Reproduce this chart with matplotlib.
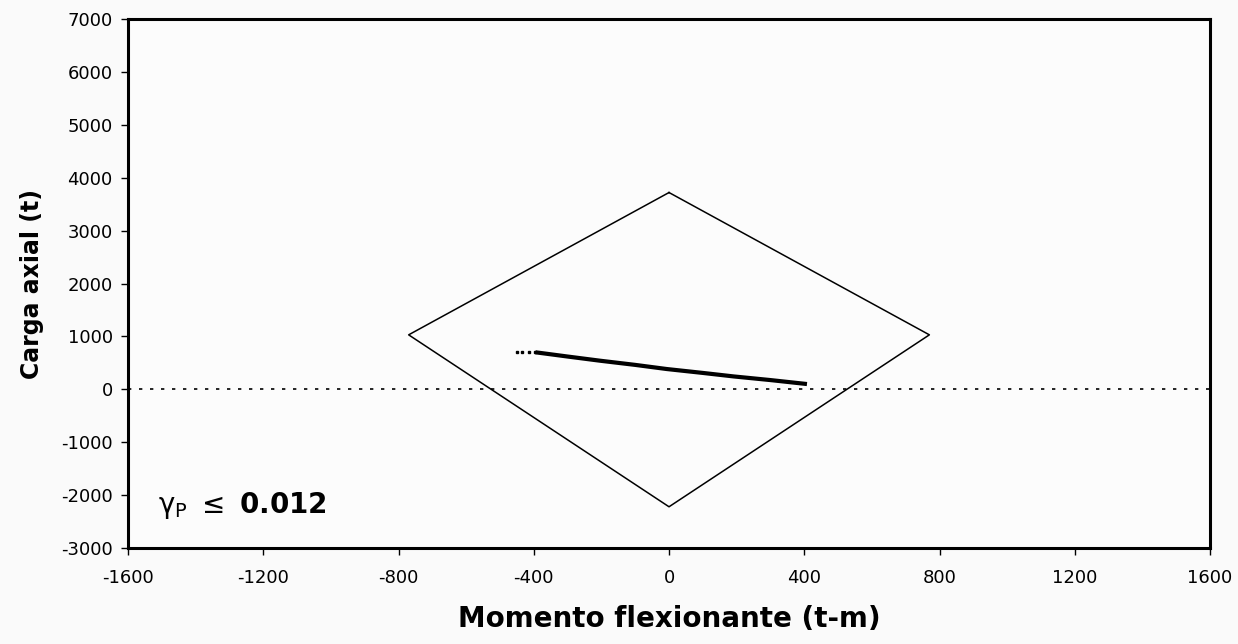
import matplotlib.pyplot as plt

# diagrama de interaccion (contorno)
diag_m = [0, 770, 0, -770, 0]
diag_p = [3720, 1030, -2220, 1030, 3720]

# respuesta (puntos M-P)
resp_m = [-450, -435, -415, -395, -371, -300, -204, -100, -7, 100, 191, 300, 408]
resp_p = [705, 705, 700, 700, 680, 620, 541, 462, 384, 310, 244, 175, 100]

xticks = [-1600, -1200, -800, -400, 0, 400, 800, 1200, 1600]
yticks = [-3000, -2000, -1000, 0, 1000, 2000, 3000, 4000, 5000, 6000, 7000]

plt.rcParams['font.family'] = ['DejaVu Sans']
plt.rcParams['mathtext.fontset'] = 'dejavusans'

fig = plt.figure(figsize=(12.38, 6.44), dpi=100, facecolor='#fafafa')
ax = fig.add_axes([0.1034, 0.149, 0.8740, 0.8215], facecolor='#fcfcfc')

ax.plot(diag_m, diag_p, color='black', lw=1.1)
ax.axhline(0, color='black', lw=1.2, dashes=(2, 4.6))

# primeros puntos sueltos, luego la linea gruesa
ax.plot(resp_m[:4], resp_p[:4], 's', color='black', ms=2)
ax.plot(resp_m[3:], resp_p[3:], color='black', lw=3, solid_capstyle='butt')

ax.text(-1510, -2330, r'$\mathrm{γ}_\mathrm{P}\ \leq\ \mathbf{0.012}$', fontsize=20)

ax.set_xlim(-1600, 1600)
ax.set_ylim(-3000, 7000)
ax.set_xticks(xticks)
ax.set_yticks(yticks)
ax.set_xticklabels([str(v) for v in xticks])
ax.set_yticklabels([str(v) for v in yticks])
ax.tick_params(direction='out', length=5, width=1, labelsize=13, pad=6)
ax.tick_params(axis='x', pad=10)

for s in ax.spines.values():
    s.set_linewidth(2.2)

ax.set_ylabel('Carga axial (t)', fontsize=17, fontweight='bold', labelpad=12)
ax.set_xlabel('Momento flexionante (t-m)', fontsize=20, fontweight='bold', labelpad=13)

fig.savefig('out.png', dpi=100, facecolor=fig.get_facecolor())
